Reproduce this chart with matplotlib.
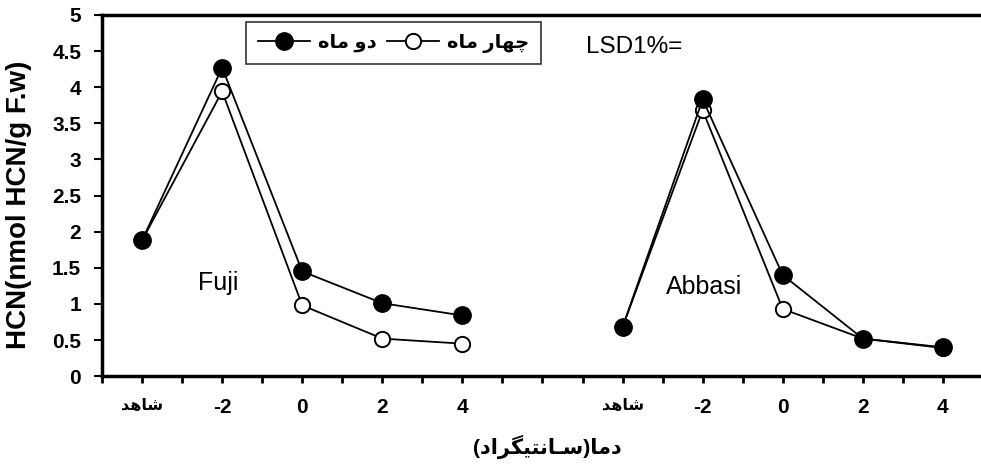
from matplotlib import pyplot as plt
import numpy as np

plt.rcParams['font.family'] = ['Liberation Sans', 'DejaVu Sans']

# Arabic-script labels, pre-shaped (presentation forms, visual order)
control = '\uFEAA\uFEEB\uFE8E\uFEB7'                      # شاهد
two_months = '\uFEE9\uFE8E\uFEE3 \uFEED\uFEA9'            # دو ماه
four_months = '\uFEE9\uFE8E\uFEE3 \uFEAD\uFE8E\uFEEC\uFB7C'  # چهار ماه
x_title = ('(\uFEA9\uFE8D\uFEAE\uFB95\uFEF4\uFE98\uFEE7\uFE8E\u0640\uFEB3)'
           '\uFE8E\uFEE3\uFEA9')                           # دما(سـانتیگراد)

categories = [control, '-2', '0', '2', '4']
cultivars = ['Fuji', 'Abbasi']
fuji_2m = [1.88, 4.27, 1.45, 1.01, 0.84]
fuji_4m = [1.88, 3.94, 0.98, 0.52, 0.45]
abbasi_2m = [0.68, 3.83, 1.40, 0.52, 0.40]
abbasi_4m = [0.68, 3.68, 0.93, 0.52, 0.39]
y_ticks = [0, 0.5, 1, 1.5, 2, 2.5, 3, 3.5, 4, 4.5, 5]
y_ticklabels = ['0', '0.5', '1', '1.5', '2', '2.5', '3', '3.5', '4', '4.5', '5']

fig = plt.figure(figsize=(9.81, 4.65), dpi=100)
ax = fig.add_axes([0.104, 0.191, 0.898, 0.777])

x_fuji = np.arange(len(categories))
x_abbasi = x_fuji + len(categories) + 1

open_style = dict(color='k', lw=1.3, marker='o', ms=11, mfc='white', mec='k', mew=1.4)
fill_style = dict(color='k', lw=1.3, marker='o', ms=12.5, mfc='k', mec='k')

ax.plot(x_fuji, fuji_4m, zorder=3, **open_style)
ax.plot(x_fuji, fuji_2m, zorder=4, **fill_style)
ax.plot(x_abbasi, abbasi_4m, zorder=3, **open_style)
ax.plot(x_abbasi, abbasi_2m, zorder=4, **fill_style)

# legend handles
h2, = ax.plot([], [], label=two_months, **fill_style)
h4, = ax.plot([], [], label=four_months, **open_style)
leg = fig.legend(handles=[h2, h4], loc='upper left', bbox_to_anchor=(0.251, 0.953),
                 ncol=2, frameon=True, fancybox=False, edgecolor='k', handlelength=2.7,
                 columnspacing=0.5, handletextpad=0.4, borderpad=0.6, borderaxespad=0,
                 prop={'weight': 'bold', 'size': 14})
leg.get_frame().set_linewidth(1.2)

ax.set_xlim(-0.5, 10.5)
ax.set_ylim(0, 5)

xpos = np.concatenate([x_fuji, x_abbasi])
ax.set_xticks(xpos)
ax.set_xticklabels(categories + categories)
ax.set_xticks(np.arange(-0.5, 10.51, 0.5), minor=True)
for lbl in ax.get_xticklabels():
    lbl.set_fontweight('bold')
    lbl.set_fontsize(11.5 if lbl.get_text() == control else 15)
ax.set_yticks(y_ticks)
ax.set_yticklabels(y_ticklabels, fontsize=15, fontweight='bold')

ax.tick_params(axis='x', which='both', direction='out', length=5, width=2, pad=11)
ax.tick_params(axis='y', direction='out', length=6, width=1.5, pad=9)

ax.spines['right'].set_visible(False)
for side in ['left', 'bottom', 'top']:
    ax.spines[side].set_linewidth(2.5)

ax.text(0.7, 1.29, cultivars[0], fontsize=18, va='center')
ax.text(6.54, 1.23, cultivars[1], fontsize=18, va='center')
ax.text(5.54, 4.56, 'LSD1%=', fontsize=17.5, va='center')

fig.text(0.019, 0.56, 'HCN(nmol HCN/g F.w)', rotation=90, fontsize=20,
         fontweight='bold', ha='center', va='center')
fig.text(0.558, 0.039, x_title, fontsize=15, fontweight='bold', ha='center', va='center')

fig.savefig('out.png', dpi=100)
